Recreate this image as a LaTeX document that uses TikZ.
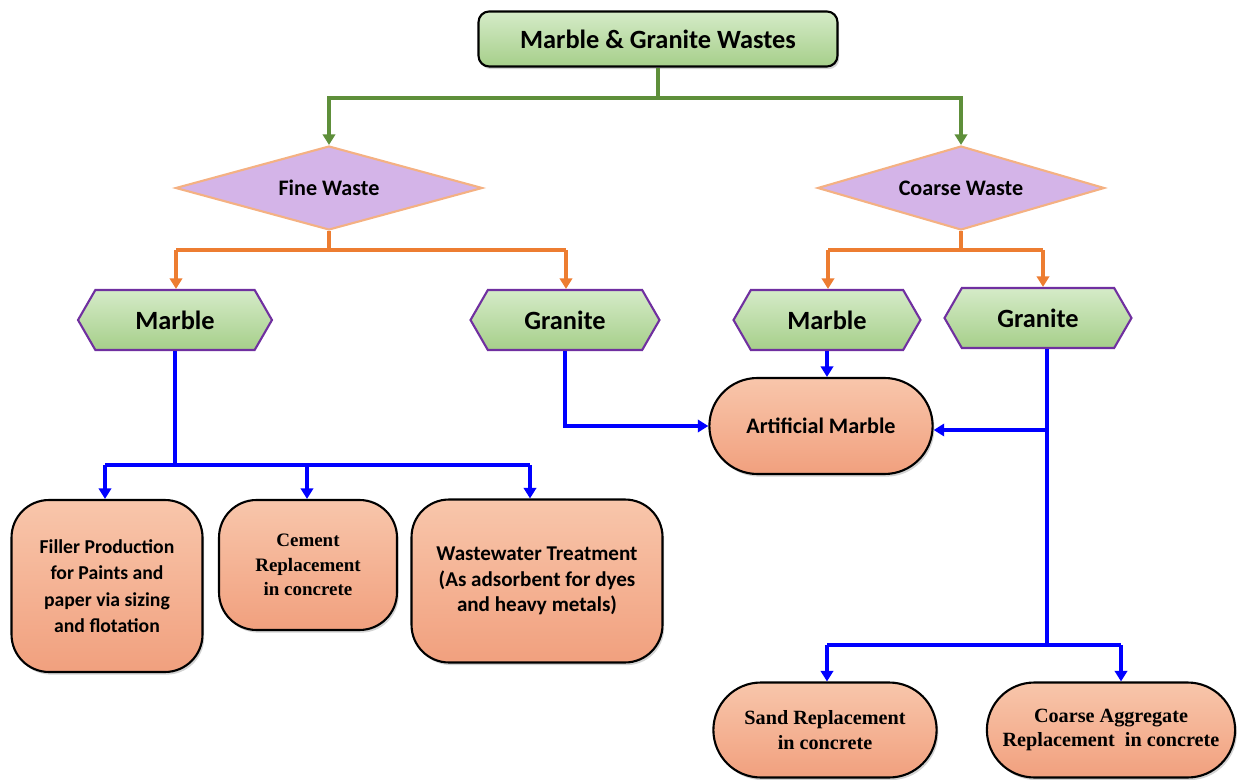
\documentclass[tikz,border=0pt]{standalone}
\usepackage{fontspec}
\setmainfont{Carlito}
\newfontfamily\timesfont{Liberation Serif}
\usetikzlibrary{shapes.geometric,shapes.symbols,shapes.misc,arrows.meta,shadows}

\definecolor{leafA}{HTML}{D5EBC8}
\definecolor{leafB}{HTML}{A6CF8A}
\definecolor{lilac}{HTML}{D4B4E8}
\definecolor{peachedge}{HTML}{F4B183}
\definecolor{purpleedge}{HTML}{7030A0}
\definecolor{salmonA}{HTML}{F8C6AB}
\definecolor{salmonB}{HTML}{F1A07E}
\definecolor{olive}{HTML}{5E8F3A}
\definecolor{orangeline}{HTML}{ED7D31}
\definecolor{blueline}{HTML}{0000FF}

\begin{document}
\begin{tikzpicture}[x=0.02cm,y=-0.02cm,
  topbox/.style={draw=black, line width=1.2pt, rounded corners=6pt,
    top color=leafA, bottom color=leafB, minimum width=7.18cm, minimum height=1.1cm,
    drop shadow={opacity=0.35, shadow xshift=1pt, shadow yshift=-1.5pt},
    font=\bfseries\fontsize{15}{18}\selectfont},
  diabox/.style={diamond, aspect=3.6, draw=peachedge, line width=1.2pt, fill=lilac,
    minimum width=6.14cm, minimum height=1.68cm, inner sep=0pt,
    font=\bfseries\fontsize{12.6}{15}\selectfont},
  hexbox/.style={signal, signal to=east and west, signal pointer angle=120,
    draw=purpleedge, line width=1.2pt, top color=leafA, bottom color=leafB,
    minimum width=3.78cm, minimum height=1.2cm, inner sep=0pt,
    font=\bfseries\fontsize{15}{18}\selectfont},
  pillbox/.style={rounded rectangle, draw=black, line width=1.2pt,
    top color=salmonA, bottom color=salmonB, minimum height=1.92cm,
    drop shadow={opacity=0.35, shadow xshift=1pt, shadow yshift=-1.5pt}},
  barrelbox/.style={rectangle, rounded corners=0.75cm, draw=black, line width=1.2pt,
    top color=salmonA, bottom color=salmonB, align=center,
    drop shadow={opacity=0.35, shadow xshift=1pt, shadow yshift=-1.5pt}},
  greenline/.style={draw=olive, line width=2pt},
  orangeline/.style={draw=orangeline, line width=2pt},
  blueline/.style={draw=blueline, line width=2pt},
  tip/.style={-{Triangle[width=7pt,length=6pt]}}]
  \useasboundingbox (0,0) rectangle (1237,780);

  %top
  \node[topbox] (wastes) at (658,39) {Marble \& Granite Wastes};

  %fine and coarse
  \node[diabox] (fine) at (329,188) {Fine Waste};
  \node[diabox, aspect=3.4, minimum width=5.74cm] (coarse) at (961,188) {Coarse Waste};

  \coordinate (gM) at (658,98);
  \coordinate (gL) at (329,98);
  \coordinate (gR) at (961,98);
  \draw[greenline] (wastes.south) -- (gM);
  \draw[greenline, tip] (gM) -- (gL) -- (fine.north);
  \draw[greenline, tip] (gM) -- (gR) -- (coarse.north);

  %marble / granite
  \node[hexbox, minimum width=3.88cm] (marbleF) at (175,320) {Marble};
  \node[hexbox] (graniteF) at (565,320) {Granite};
  \node[hexbox, minimum width=3.74cm] (marbleC) at (827,320) {Marble};
  \node[hexbox, minimum width=3.74cm] (graniteC) at (1038,318) {Granite};

  \coordinate (oF) at (329,250);
  \coordinate (oFL) at (176,250);
  \coordinate (oFR) at (566,250);
  \coordinate (oC) at (961,250);
  \coordinate (oCL) at (828,250);
  \coordinate (oCR) at (1043,250);
  \draw[orangeline] (fine.south) -- (oF);
  \draw[orangeline] (oFL) -- (oFR);
  \draw[orangeline, tip] (oFL) -- (oFL |- marbleF.north);
  \draw[orangeline, tip] (oFR) -- (oFR |- graniteF.north);
  \draw[orangeline] (coarse.south) -- (oC);
  \draw[orangeline] (oCL) -- (oCR);
  \draw[orangeline, tip] (oCL) -- (oCL |- marbleC.north);
  \draw[orangeline, tip] (oCR) -- (oCR |- graniteC.north);

  %uses
  \node[barrelbox, minimum width=3.82cm, minimum height=3.44cm,
    font=\bfseries\fontsize{11.2}{15}\selectfont] (filler) at (107,586)
    {Filler Production\\for Paints and\\paper via sizing\\and flotation};
  \node[barrelbox, minimum width=3.56cm, minimum height=2.6cm,
    font=\timesfont\bfseries\fontsize{10.8}{14}\selectfont] (cement) at (308,565)
    {Cement\\Replacement\\in concrete};
  \node[barrelbox, minimum width=5.02cm, minimum height=3.26cm,
    font=\bfseries\fontsize{12}{14.5}\selectfont] (water) at (537,581)
    {Wastewater Treatment\\(As adsorbent for dyes\\and heavy metals)};
  \node[pillbox, minimum width=4.7cm,
    font=\bfseries\fontsize{12.6}{15}\selectfont] (artmarble) at (821,426) {Artificial Marble};
  \node[pillbox, minimum width=4.7cm, minimum height=1.9cm, align=center,
    font=\timesfont\bfseries\fontsize{11.5}{14}\selectfont] (sand) at (825,730)
    {Sand Replacement\\in concrete};
  \node[pillbox, minimum width=5.2cm, minimum height=1.9cm, align=center,
    font=\timesfont\bfseries\fontsize{11.5}{14}\selectfont] (aggregate) at (1111,730)
    {Coarse Aggregate\\Replacement~ in concrete};

  \coordinate (bM) at (175,465);
  \coordinate (bL) at (105,465);
  \coordinate (bC) at (307,465);
  \coordinate (bR) at (530,465);
  \draw[blueline] (marbleF.south) -- (bM);
  \draw[blueline] (bL) -- (bR);
  \draw[blueline, tip] (bL) -- (bL |- filler.north);
  \draw[blueline, tip] (bC) -- (bC |- cement.north);
  \draw[blueline, tip] (bR) -- (bR |- water.north);

  \draw[blueline, tip] (graniteF.south) |- (artmarble.west);
  \draw[blueline, tip] (marbleC.south) -- (marbleC.south |- artmarble.north);

  \coordinate (gB) at (1047,430);
  \coordinate (gC) at (1047,645);
  \coordinate (sL) at (827,645);
  \coordinate (sR) at (1121,645);
  \draw[blueline] (graniteC.south -| gB) -- (gC);
  \draw[blueline, tip] (gB) -- (gB -| artmarble.east);
  \draw[blueline] (sL) -- (sR);
  \draw[blueline, tip] (sL) -- (sL |- sand.north);
  \draw[blueline, tip] (sR) -- (sR |- aggregate.north);
\end{tikzpicture}
\end{document}
